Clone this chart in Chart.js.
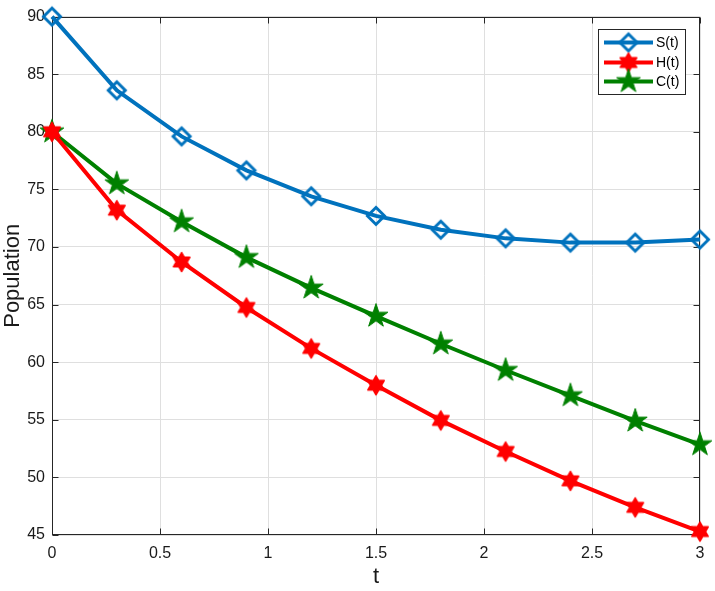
<!DOCTYPE html>
<html><head><meta charset="utf-8">
<script src="https://cdn.jsdelivr.net/npm/chart.js@4/dist/chart.umd.min.js"></script>
<style>html,body{margin:0;padding:0;background:#fff}#wrap{width:715px;height:591px}</style>
</head><body><div id="wrap"><canvas id="c" width="715" height="591"></canvas></div>
<script>
const tValues = [0, 0.3, 0.6, 0.9, 1.2, 1.5, 1.8, 2.1, 2.4, 2.7, 3.0];
const sValues = [90, 83.6, 79.6, 76.65, 74.4, 72.7, 71.5, 70.75, 70.38, 70.38, 70.65];
const hValues = [80, 73.2, 68.7, 64.75, 61.2, 58.0, 54.95, 52.25, 49.7, 47.4, 45.3];
const cValues = [80, 75.5, 72.2, 69.1, 66.45, 64.0, 61.6, 59.3, 57.1, 54.9, 52.85];
const seriesLabels = ['S(t)', 'H(t)', 'C(t)'];
const xTicks = [0, 0.5, 1, 1.5, 2, 2.5, 3];
const yTicks = [45, 50, 55, 60, 65, 70, 75, 80, 85, 90];

const BLUE = '#0072BD', RED = '#FF0000', GREEN = '#008000', AX = '#262626';
const FONT = '"Liberation Sans", Arial, Helvetica, sans-serif';

function starCanvas(points, outerR, innerR, color, lw) {
  let size = Math.ceil(2 * (outerR + lw) + 2); if (size % 2) size++;
  const cv = document.createElement('canvas'); cv.width = size; cv.height = size;
  const g = cv.getContext('2d'); const c = size / 2;
  g.beginPath();
  for (let i = 0; i < points * 2; i++) {
    const r = i % 2 === 0 ? outerR : innerR;
    const a = -Math.PI / 2 + i * Math.PI / points;
    g.lineTo(c + r * Math.cos(a), c + r * Math.sin(a));
  }
  g.closePath(); g.fillStyle = color; g.fill();
  g.strokeStyle = color; g.lineWidth = lw; g.lineJoin = 'round'; g.stroke();
  return cv;
}
function diamondCanvas(r, color, lw) {
  let size = Math.ceil(2 * (r + lw) + 2); if (size % 2) size++;
  const cv = document.createElement('canvas'); cv.width = size; cv.height = size;
  const g = cv.getContext('2d'); const c = size / 2;
  g.beginPath(); g.moveTo(c, c - r); g.lineTo(c + r, c); g.lineTo(c, c + r); g.lineTo(c - r, c); g.closePath();
  g.strokeStyle = color; g.lineWidth = lw; g.lineJoin = 'miter'; g.stroke();
  return cv;
}
const diamondImg = diamondCanvas(8.5, BLUE, 3);
const hexImg = starCanvas(6, 9.5, 9.5 / Math.sqrt(3), RED, 1.5);
const pentImg = starCanvas(5, 12.5, 12.5 * 0.382, GREEN, 1);

function pts(arr) { return tValues.map((t, i) => ({ x: t, y: arr[i] })); }

const boxPlugin = {
  id: 'box',
  beforeDatasetsDraw(chart) {
    const { ctx, chartArea: a, scales } = chart;
    ctx.save();
    ctx.strokeStyle = AX; ctx.lineWidth = 1;
    const L = Math.round(a.left) + 0.5, R = Math.round(a.right) - 0.5;
    const T = Math.round(a.top) + 0.5, B = Math.round(a.bottom) - 0.5;
    ctx.strokeRect(L, T, R - L, B - T);
    const tl = 6;
    ctx.beginPath();
    xTicks.forEach(v => {
      const x = Math.round(scales.x.getPixelForValue(v)) + 0.5;
      ctx.moveTo(x, B); ctx.lineTo(x, B - tl);
      ctx.moveTo(x, T); ctx.lineTo(x, T + tl);
    });
    yTicks.forEach(v => {
      const y = Math.round(scales.y.getPixelForValue(v)) + 0.5;
      ctx.moveTo(L, y); ctx.lineTo(L + tl, y);
      ctx.moveTo(R, y); ctx.lineTo(R - tl, y);
    });
    ctx.stroke();
    ctx.restore();
  }
};

const legendPlugin = {
  id: 'customLegend',
  afterDraw(chart) {
    const ctx = chart.ctx;
    const bx = 598, by = 29, bw = 88, bh = 66;
    ctx.save();
    ctx.fillStyle = '#fff'; ctx.fillRect(bx, by, bw, bh);
    ctx.strokeStyle = AX; ctx.lineWidth = 1; ctx.strokeRect(bx + 0.5, by + 0.5, bw - 1, bh - 1);
    const rows = [42.5, 62.5, 81.5];
    chart.data.datasets.forEach((ds, i) => {
      const y = rows[i];
      ctx.strokeStyle = ds.borderColor; ctx.lineWidth = 4;
      ctx.beginPath(); ctx.moveTo(604, y); ctx.lineTo(653, y); ctx.stroke();
      const img = ds.pointStyle;
      ctx.drawImage(img, 628.5 - img.width / 2, y - img.height / 2);
      ctx.fillStyle = '#000'; ctx.font = '14px ' + FONT;
      ctx.textBaseline = 'middle'; ctx.textAlign = 'left';
      ctx.fillText(ds.label, 656, y + 1);
    });
    ctx.restore();
  }
};

new Chart(document.getElementById('c'), {
  type: 'line',
  data: {
    datasets: [
      { label: seriesLabels[0], data: pts(sValues), borderColor: BLUE, borderWidth: 4, pointStyle: diamondImg, clip: false, fill: false, tension: 0 },
      { label: seriesLabels[1], data: pts(hValues), borderColor: RED, borderWidth: 4, pointStyle: hexImg, clip: false, fill: false, tension: 0 },
      { label: seriesLabels[2], data: pts(cValues), borderColor: GREEN, borderWidth: 4, pointStyle: pentImg, clip: false, fill: false, tension: 0 }
    ]
  },
  options: {
    responsive: false, animation: false,
    layout: { padding: { top: 16, right: 15, left: 0, bottom: 0 } },
    plugins: { legend: { display: false }, tooltip: { enabled: false } },
    scales: {
      x: {
        type: 'linear', min: 0, max: 3,
        afterBuildTicks: s => { s.ticks = xTicks.map(v => ({ value: v })); },
        afterFit: s => { s.height = 56; },
        grid: { color: '#dfdfdf', lineWidth: 1, drawTicks: false },
        border: { display: false },
        ticks: { color: '#1a1a1a', font: { family: FONT, size: 16 }, padding: 9, maxRotation: 0, callback: v => String(v) },
        title: { display: true, text: 't', color: '#1a1a1a', font: { family: FONT, size: 22 }, padding: { top: 0, bottom: 1 } }
      },
      y: {
        type: 'linear', min: 45, max: 90,
        afterBuildTicks: s => { s.ticks = yTicks.map(v => ({ value: v })); },
        afterFit: s => { s.width = 52; },
        grid: { color: '#dfdfdf', lineWidth: 1, drawTicks: false },
        border: { display: false },
        ticks: { color: '#1a1a1a', font: { family: FONT, size: 16 }, padding: 7, callback: v => String(v) },
        title: { display: true, text: 'Population', color: '#1a1a1a', font: { family: FONT, size: 22 }, padding: { top: 0, bottom: 0 } }
      }
    }
  },
  plugins: [boxPlugin, legendPlugin]
});
</script></body></html>
